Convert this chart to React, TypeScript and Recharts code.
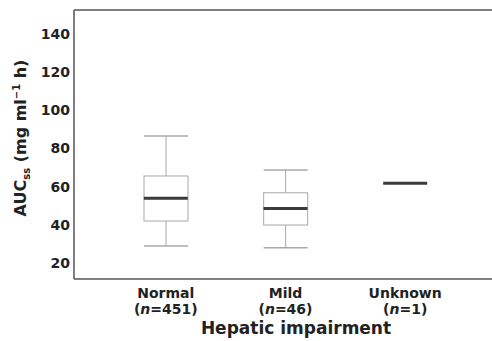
import { Bar, ComposedChart, ReferenceLine, Scatter, XAxis, YAxis, Label } from "recharts";

const groups = ["Normal", "Mild", "Unknown"];
const counts = [451, 46, 1];
const lows = [28.9, 28, null];
const q1s = [42, 39.9, null];
const medians = [53.9, 48.6, 61.8];
const q3s = [65.6, 56.8, null];
const highs = [86.6, 68.7, null];
const yTicks = [20, 40, 60, 80, 100, 120, 140];

const Y_MIN = 11.6;
const Y_MAX = 152.6;
const FONT = "'DejaVu Sans', sans-serif";
const FRAME = "#555";

const rows = groups.map((g, i) => ({
  group: g,
  n: counts[i],
  low: lows[i],
  q1: q1s[i],
  median: medians[i],
  q3: q3s[i],
  high: highs[i],
  range: lows[i] == null ? null : [lows[i], highs[i]],
}));

// box + whiskers, positions interpolated from the bar's own [low, high] extent
function BoxShape(props: any) {
  const { x, y, width, height, payload } = props;
  if (payload.low == null || !height) return null;
  const k = height / (payload.high - payload.low);
  const at = (v: number) => y + (payload.high - v) * k;
  const cx = x + width / 2;
  const stroke = "#a8a8a8";
  return (
    <g>
      <line x1={x} x2={x + width} y1={at(payload.high)} y2={at(payload.high)} stroke={stroke} strokeWidth={1.5} />
      <line x1={cx} x2={cx} y1={at(payload.high)} y2={at(payload.q3)} stroke={stroke} strokeWidth={1} />
      <rect
        x={x}
        y={at(payload.q3)}
        width={width}
        height={at(payload.q1) - at(payload.q3)}
        fill="none"
        stroke={stroke}
        strokeWidth={1}
      />
      <line x1={cx} x2={cx} y1={at(payload.q1)} y2={at(payload.low)} stroke={stroke} strokeWidth={1} />
      <line x1={x} x2={x + width} y1={at(payload.low)} y2={at(payload.low)} stroke={stroke} strokeWidth={1.5} />
    </g>
  );
}

function MedianShape(props: any) {
  const { cx, cy } = props;
  return <line x1={cx - 22} x2={cx + 22} y1={cy} y2={cy} stroke="#3a3a3a" strokeWidth={3} />;
}

function GroupTick(props: any) {
  const { x, y, payload, index } = props;
  return (
    <g fontFamily={FONT} fontWeight="bold" fontSize={14} fill="#222">
      <text x={x} y={y + 17} textAnchor="middle">
        {payload.value}
      </text>
      <text x={x} y={y + 33} textAnchor="middle">
        (<tspan fontStyle="italic">n</tspan>={counts[index]})
      </text>
    </g>
  );
}

function XTitle(props: any) {
  const { viewBox } = props;
  return (
    <text
      x={viewBox.x + viewBox.width / 2 + 13}
      y={334}
      textAnchor="middle"
      fontFamily={FONT}
      fontWeight="bold"
      fontSize={17}
      fill="#222"
    >
      Hepatic impairment
    </text>
  );
}

function YTitle() {
  const cx = 26;
  const cy = 138;
  return (
    <text
      x={cx}
      y={cy}
      transform={`rotate(-90, ${cx}, ${cy})`}
      textAnchor="middle"
      fontFamily={FONT}
      fontWeight="bold"
      fontSize={16}
      fill="#222"
    >
      AUC
      <tspan fontSize={10} dy={4}>
        ss
      </tspan>
      <tspan dy={-4}> (mg ml</tspan>
      <tspan fontSize={10} dy={-6}>
        −1
      </tspan>
      <tspan dy={6}> h)</tspan>
    </text>
  );
}

export default function App() {
  return (
    <div style={{ position: "fixed", left: 0, top: 0, background: "#fff" }}>
      <ComposedChart width={492} height={341} data={rows} margin={{ top: 10, right: 0, bottom: 0, left: 0 }}>
        <XAxis
          dataKey="group"
          height={62}
          padding={{ left: 32, right: 27 }}
          tickLine={false}
          tickSize={0}
          axisLine={{ stroke: FRAME, strokeWidth: 1.5 }}
          tick={<GroupTick />}
          interval={0}
        >
          <Label content={<XTitle />} />
        </XAxis>
        <YAxis
          width={74}
          domain={[Y_MIN, Y_MAX]}
          ticks={yTicks}
          allowDataOverflow
          tickLine={false}
          tickSize={0}
          tickMargin={4}
          axisLine={{ stroke: FRAME, strokeWidth: 1.5 }}
          tick={{ fontFamily: FONT, fontWeight: "bold", fontSize: 14, fill: "#222" }}
        >
          <Label content={<YTitle />} />
        </YAxis>
        <ReferenceLine y={Y_MAX} stroke={FRAME} strokeWidth={1.5} />
        <Bar dataKey="range" barSize={44} shape={<BoxShape />} isAnimationActive={false} />
        <Scatter dataKey="median" shape={<MedianShape />} isAnimationActive={false} />
      </ComposedChart>
    </div>
  );
}
